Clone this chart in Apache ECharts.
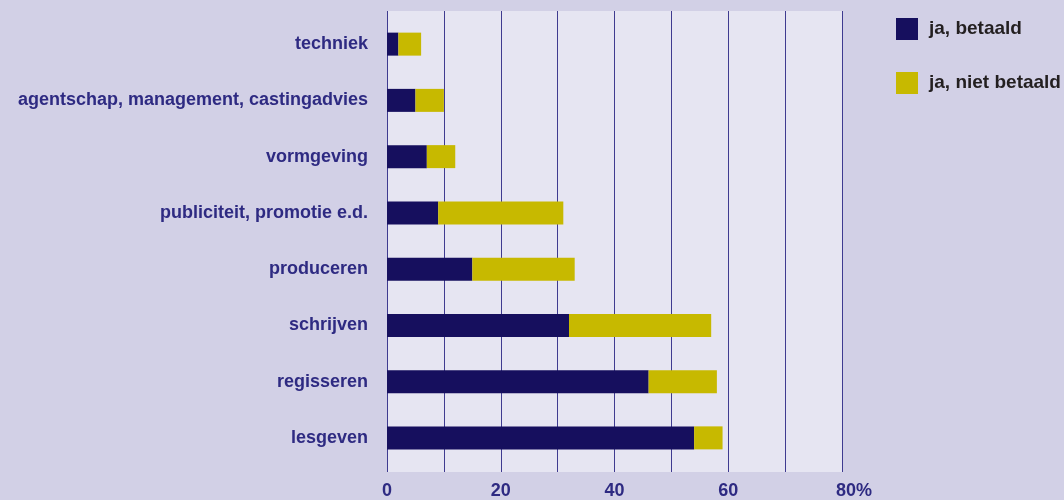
<!DOCTYPE html>
<html>
<head>
<meta charset="utf-8">
<script src="https://cdn.jsdelivr.net/npm/echarts@6/dist/echarts.min.js"></script>
<style>
  html, body { margin: 0; padding: 0; background: #d2d0e6; }
  #chart { width: 1064px; height: 500px; }
</style>
</head>
<body>
<div id="chart"></div>
<script>
// categories from top to bottom
const categories = ['techniek', 'agentschap, management, castingadvies', 'vormgeving',
    'publiciteit, promotie e.d.', 'produceren', 'schrijven', 'regisseren', 'lesgeven'];
const betaald = [2, 5, 7, 9, 15, 32, 46, 54];
const nietBetaald = [4, 5, 5, 22, 18, 25, 12, 5];
const seriesNames = ['ja, betaald', 'ja, niet betaald'];

const FONT = '"Liberation Sans Narrow", "Liberation Sans", Arial, sans-serif';
const LABEL_COLOR = '#2e2a82';

document.addEventListener('DOMContentLoaded', () => {
    const chartDom = document.getElementById('chart');
    const myChart = echarts.init(chartDom);
    const option = {
        backgroundColor: '#d2d0e6',
        animation: false,
        textStyle: { fontFamily: FONT },
        legend: {
            data: seriesNames,
            orient: 'vertical',
            left: 891,
            top: 13,
            icon: 'rect',
            itemWidth: 22,
            itemHeight: 22,
            itemGap: 32,
            textStyle: { color: '#231f20', fontSize: 19, fontWeight: 'bold', fontFamily: FONT, padding: [0, 0, 0, 6] }
        },
        grid: [
            // plot background + grid lines
            { left: 387, right: 222, top: 11, bottom: 27, show: true, backgroundColor: '#e6e5f2', borderWidth: 0 },
            // bars
            { left: 387, right: 222, top: 16, bottom: 34 }
        ],
        xAxis: [
            {
                gridIndex: 0, type: 'value', min: 0, max: 80, interval: 10,
                axisLine: { show: false }, axisTick: { show: false },
                splitLine: { show: true, lineStyle: { color: '#3f3b90', width: 1 } },
                axisLabel: {
                    margin: 10,
                    color: LABEL_COLOR, fontSize: 18, fontWeight: 'bold', fontFamily: FONT,
                    formatter: v => v % 20 !== 0 ? '' : (v === 80 ? '{p|80%}' : String(v)),
                    rich: { p: { color: LABEL_COLOR, fontSize: 18, fontWeight: 'bold', fontFamily: FONT, padding: [0, 0, 0, 24] } }
                }
            },
            { gridIndex: 1, type: 'value', min: 0, max: 80, show: false }
        ],
        yAxis: [
            { gridIndex: 0, type: 'value', show: false },
            {
                gridIndex: 1, type: 'category', data: categories, inverse: true,
                axisLine: { show: false }, axisTick: { show: false },
                axisLabel: { margin: 19, color: LABEL_COLOR, fontSize: 18, fontWeight: 'bold', fontFamily: FONT }
            }
        ],
        series: [
            {
                name: seriesNames[0], type: 'bar', stack: 'total', xAxisIndex: 1, yAxisIndex: 1,
                barWidth: 23, itemStyle: { color: '#160f5e' }, data: betaald
            },
            {
                name: seriesNames[1], type: 'bar', stack: 'total', xAxisIndex: 1, yAxisIndex: 1,
                barWidth: 23, itemStyle: { color: '#c7b900' }, data: nietBetaald
            }
        ]
    };
    myChart.setOption(option);
    window.addEventListener('resize', () => myChart.resize());
});
</script>
</body>
</html>
